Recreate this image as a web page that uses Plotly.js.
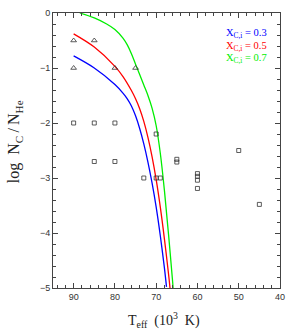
<!DOCTYPE html>
<html><head><meta charset="utf-8">
<script src="https://cdn.plot.ly/plotly-3.0.1.min.js"></script>
<style>html,body{margin:0;padding:0;background:#fff}</style>
</head><body><div id="chart" style="width:299px;height:330px"></div>
<script>
// Model curves (Teff in 10^3 K, log NC/NHe)
const blueT = [90, 85, 80, 78, 77, 76, 75, 74, 73, 72, 71, 70, 69, 68, 67.5];
const blueY = [-0.78, -1.0, -1.3, -1.46, -1.56, -1.69, -1.87, -2.1, -2.38, -2.71, -3.09, -3.53, -4.05, -4.64, -4.98];
const redT = [90, 85, 80, 78, 76, 75, 74, 73, 72, 71, 70, 69, 68, 67, 66.65];
const redY = [-0.38, -0.62, -0.97, -1.16, -1.41, -1.56, -1.74, -1.97, -2.26, -2.61, -3.03, -3.53, -4.11, -4.75, -5.0];
const greenT = [88.5, 85, 82, 80, 78, 77, 76, 75, 74, 73, 72, 71, 70, 69, 68, 67, 66, 65.9];
const greenY = [0, -0.09, -0.2, -0.3, -0.46, -0.58, -0.74, -0.93, -1.12, -1.31, -1.5, -1.73, -2.05, -2.55, -3.23, -4.03, -4.9, -5.0];
// Observed stars
const triT = [90, 85, 90, 80, 75];
const triY = [-0.5, -0.5, -1.0, -1.0, -1.0];
const sqT = [90, 85, 80, 85, 80, 73, 70, 50, 65, 65, 70, 69, 60, 60, 60, 60, 45];
const sqY = [-2.0, -2.0, -2.0, -2.7, -2.7, -3.0, -2.2, -2.5, -2.66, -2.71, -3.0, -3.0, -2.92, -2.97, -3.04, -3.19, -3.48];
const labels = ["X<sub>C,i</sub> = 0.3", "X<sub>C,i</sub> = 0.5", "X<sub>C,i</sub> = 0.7"];
const colors = ["#0000ff", "#ff0000", "#00ee00"];
const xTitle = "T<sub>eff</sub>\u00a0\u00a0(10<sup>3</sup>\u00a0\u00a0K)";
const yTitle = "log\u00a0\u00a0N<sub>C</sub>\u2009/\u2009N<sub>He</sub>";

const traces = [
  {x: blueT, y: blueY, mode: 'lines', line: {color: colors[0], width: 1.3, shape: 'spline', smoothing: 1}},
  {x: redT, y: redY, mode: 'lines', line: {color: colors[1], width: 1.3, shape: 'spline', smoothing: 1}},
  {x: greenT, y: greenY, mode: 'lines', line: {color: colors[2], width: 1.3, shape: 'spline', smoothing: 1}},
  {x: triT, y: triY, mode: 'markers', marker: {symbol: 'triangle-up-open', size: 5, color: '#333', line: {width: 0.8}}},
  {x: sqT, y: sqY, mode: 'markers', marker: {symbol: 'square-open', size: 4, color: '#333', line: {width: 0.8}}}
];

const axisCommon = {
  showline: true, linecolor: '#444', linewidth: 1, mirror: 'ticks',
  ticks: 'inside', ticklen: 5, tickcolor: '#444', tickwidth: 1,
  showgrid: false, zeroline: false,
  tickfont: {family: 'Liberation Sans, Arial, sans-serif', size: 9, color: '#333'}
};

const serif = 'Liberation Serif, Times New Roman, serif';
const annotations = labels.map((t, i) => ({
  xref: 'paper', yref: 'paper', x: 0.752, y: 1 - (20.5 + i * 12.5) / 275, xanchor: 'left', yanchor: 'middle',
  text: t, showarrow: false,
  font: {family: serif, size: 10.5, color: colors[i]}
}));
annotations.push({xref: 'paper', yref: 'paper', x: 0.488, y: -0.118, xanchor: 'center', yanchor: 'middle',
  text: xTitle, showarrow: false, font: {family: serif, size: 14, color: '#222'}});
annotations.push({xref: 'paper', yref: 'paper', x: -0.168, y: 0.533, xanchor: 'center', yanchor: 'middle',
  text: yTitle, textangle: -90, showarrow: false, font: {family: serif, size: 16, color: '#222'}});

const layout = {
  width: 299, height: 330,
  margin: {l: 53, r: 18.5, t: 13, b: 42},
  paper_bgcolor: '#fff', plot_bgcolor: '#fff',
  showlegend: false,
  xaxis: Object.assign({}, axisCommon, {
    range: [95, 40], dtick: 10, tick0: 40,
    minor: {dtick: 2, ticks: 'inside', ticklen: 3, tickcolor: '#444', showgrid: false}
  }),
  yaxis: Object.assign({}, axisCommon, {
    range: [-5, 0], dtick: 1, tick0: 0,
    minor: {dtick: 0.2, ticks: 'inside', ticklen: 3, tickcolor: '#444', showgrid: false}
  }),
  annotations: annotations
};

Plotly.newPlot('chart', traces, layout, {displayModeBar: false, staticPlot: true});
</script></body></html>
